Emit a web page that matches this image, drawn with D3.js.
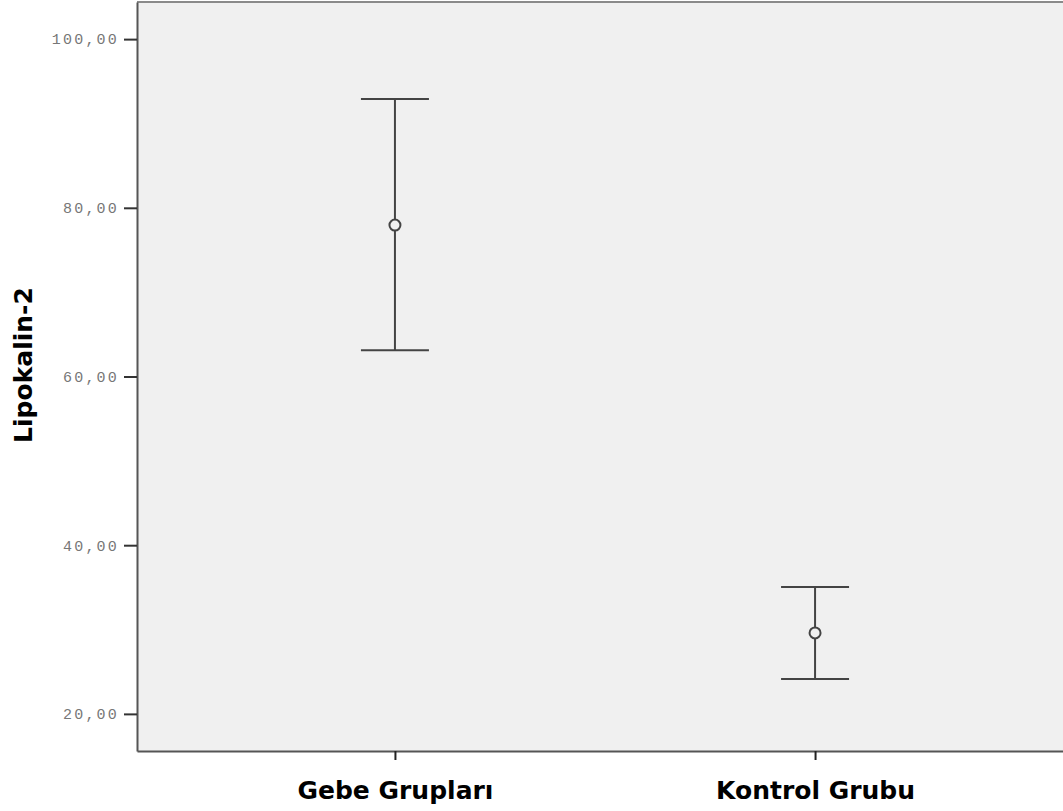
<!DOCTYPE html>
<html>
<head>
<meta charset="utf-8">
<script src="https://cdn.jsdelivr.net/npm/d3@7"></script>
<style>
  body { margin:0; background:#fff; }
  svg { display:block; }
</style>
</head>
<body>
<svg width="1063" height="811"></svg>
<script>
// data
const groups = ['Gebe Grupları', 'Kontrol Grubu'];
const means = [77.95, 29.6];
const upper = [92.9, 35.05];
const lower = [63.1, 24.15];
const yTicks = [20, 40, 60, 80, 100];

const svg = d3.select('svg');
const margin = { top: 2, left: 137, bottom: 60 };
const plotW = 936;              // runs past the right edge, like the original
const plotH = 811 - margin.top - margin.bottom;

const chart = svg.append('g')
    .attr('transform', 'translate(' + margin.left + ',' + margin.top + ')');

//Scales
const xScale = d3.scalePoint()
    .domain(groups)
    .range([0, plotW])
    .padding(0.614);
const yScale = d3.scaleLinear()
    .domain([15.6, 104.4])
    .range([plotH, 0]);

//background
chart.append('rect')
    .attr('width', plotW)
    .attr('height', plotH)
    .attr('fill', '#f0f0f0');
chart.append('line')
    .attr('x1', 0).attr('x2', plotW)
    .attr('y1', 0).attr('y2', 0)
    .attr('stroke', '#8a8a8a').attr('stroke-width', 2);

//Axes
const yAxis = d3.axisLeft(yScale)
    .tickValues(yTicks)
    .tickSize(13)
    .tickSizeOuter(0)
    .tickPadding(5)
    .tickFormat(d => d3.format('.2f')(d).replace('.', ','));
const yAxisGroup = chart.append('g').call(yAxis);
yAxisGroup.select('.domain').attr('stroke', '#555').attr('stroke-width', 2);
yAxisGroup.selectAll('.tick line').attr('stroke', '#333').attr('stroke-width', 2);
yAxisGroup.selectAll('.tick text')
    .attr('font-family', '"Liberation Mono", "DejaVu Sans Mono", monospace')
    .attr('font-size', 15)
    .attr('letter-spacing', 2.2)
    .attr('fill', '#777');

const xAxis = d3.axisBottom(xScale).tickSize(9).tickSizeOuter(0);
const xAxisGroup = chart.append('g')
    .attr('transform', 'translate(0,' + plotH + ')')
    .call(xAxis);
xAxisGroup.select('.domain').attr('stroke', '#555').attr('stroke-width', 2);
xAxisGroup.selectAll('.tick line').attr('stroke', '#222').attr('stroke-width', 2);
xAxisGroup.selectAll('.tick text')
    .attr('y', 48)
    .attr('dy', null)
    .attr('font-family', '"DejaVu Sans", sans-serif')
    .attr('font-weight', 'bold')
    .attr('font-size', 25)
    .attr('fill', '#000');

//y label
svg.append('text')
    .attr('transform', 'translate(32,365) rotate(-90)')
    .attr('text-anchor', 'middle')
    .attr('font-family', '"DejaVu Sans", sans-serif')
    .attr('font-weight', 'bold')
    .attr('font-size', 25)
    .text('Lipokalin-2');

//error bars
const rows = groups.map((g, i) => ({ g: g, m: means[i], hi: upper[i], lo: lower[i] }));
const capW = 34;
const bars = chart.selectAll('g.bar')
    .data(rows)
    .join('g')
    .attr('class', 'bar')
    .attr('stroke', '#444')
    .attr('stroke-width', 2)
    .attr('fill', 'none');
bars.append('line')
    .attr('x1', d => xScale(d.g)).attr('x2', d => xScale(d.g))
    .attr('y1', d => yScale(d.hi)).attr('y2', d => yScale(d.lo));
bars.append('line')
    .attr('x1', d => xScale(d.g) - capW).attr('x2', d => xScale(d.g) + capW)
    .attr('y1', d => yScale(d.hi)).attr('y2', d => yScale(d.hi));
bars.append('line')
    .attr('x1', d => xScale(d.g) - capW).attr('x2', d => xScale(d.g) + capW)
    .attr('y1', d => yScale(d.lo)).attr('y2', d => yScale(d.lo));
bars.append('circle')
    .attr('cx', d => xScale(d.g))
    .attr('cy', d => yScale(d.m))
    .attr('r', 5.5)
    .attr('fill', '#f0f0f0');
</script>
</body>
</html>
